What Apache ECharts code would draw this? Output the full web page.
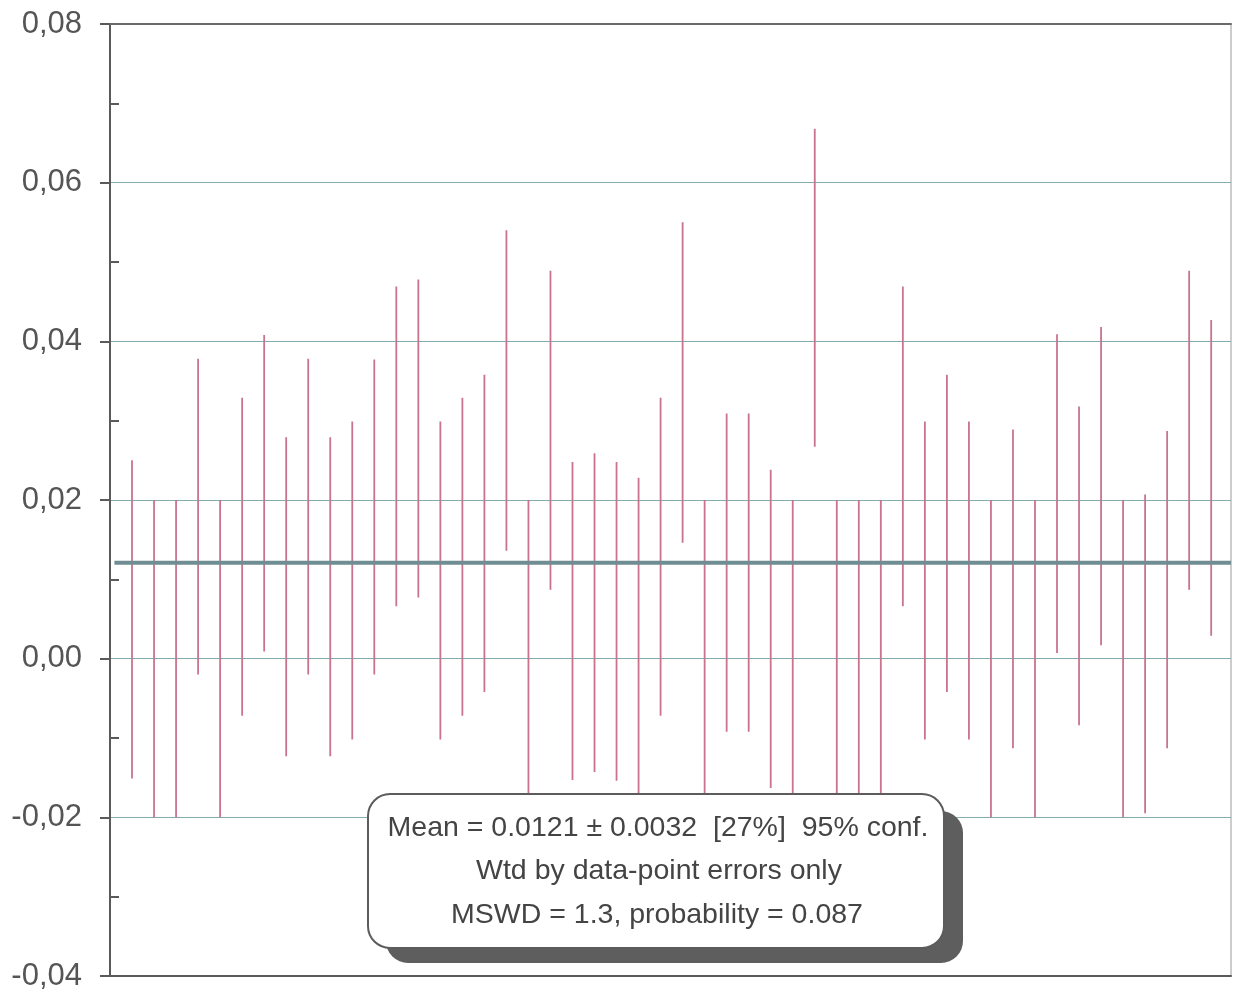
<!DOCTYPE html>
<html>
<head>
<meta charset="utf-8">
<script src="https://cdn.jsdelivr.net/npm/echarts@6/dist/echarts.min.js"></script>
<style>
html,body{margin:0;padding:0;background:#fff;}
#chart{width:1233px;height:994px;}
</style>
</head>
<body>
<div id="chart"></div>
<script>
// Data (error bars: low / high, by analysis number)
const pointIndex = [1,2,3,4,5,6,7,8,9,10,11,12,13,14,15,16,17,18,19,20,21,22,23,24,25,26,27,28,29,30,31,32,33,34,35,36,37,38,39,40,41,42,43,44,45,46,47,48,49,50];
const lowValues = [-0.0151,-0.02,-0.02,-0.002,-0.02,-0.0072,0.0009,-0.0123,-0.002,-0.0123,
  -0.0102,-0.002,0.0066,0.0077,-0.0102,-0.0072,-0.0042,0.0136,-0.02,0.0087,
  -0.0153,-0.0143,-0.0154,-0.0172,-0.0072,0.0146,-0.02,-0.0092,-0.0092,-0.0163,
  -0.02,0.0267,-0.02,-0.02,-0.02,0.0066,-0.0102,-0.0042,-0.0102,-0.02,
  -0.0113,-0.02,0.0007,-0.0084,0.0017,-0.02,-0.0195,-0.0113,0.0087,0.0029];
const highValues = [0.025,0.02,0.02,0.0378,0.02,0.0329,0.0408,0.0279,0.0378,0.0279,
  0.0299,0.0377,0.0469,0.0478,0.0299,0.0329,0.0358,0.054,0.02,0.0489,
  0.0248,0.0259,0.0248,0.0228,0.0329,0.055,0.02,0.0309,0.0309,0.0238,
  0.02,0.0668,0.02,0.02,0.02,0.0469,0.0299,0.0358,0.0299,0.02,
  0.0289,0.02,0.0409,0.0318,0.0418,0.02,0.0207,0.0287,0.0489,0.0427];
const meanValue = 0.0121;
const meanSpan = [0.2, 50.9];
const yTicks = [-0.04, -0.02, 0, 0.02, 0.04, 0.06, 0.08];
const boxLines = [
  'Mean = 0.0121 \u00b1 0.0032  [27%]  95% conf.',
  'Wtd by data-point errors only',
  'MSWD = 1.3, probability = 0.087'
];

const barData = pointIndex.map((x, i) => [x, lowValues[i], highValues[i]]);

const chart = echarts.init(document.getElementById('chart'), null, {renderer: 'canvas'});
const fontFam = '"Liberation Sans", Arial, Helvetica, sans-serif';

const option = {
  backgroundColor: '#ffffff',
  animation: false,
  grid: {left: 110, right: 2, top: 24, bottom: 18, show: true, borderColor: '#9a9a9a', borderWidth: 1, containLabel: false},
  xAxis: [{
    type: 'value', min: 0, max: 50.9, position: 'bottom',
    axisLine: {show: true, onZero: false, lineStyle: {color: '#5a5a5a', width: 2}},
    axisTick: {show: false}, axisLabel: {show: false}, splitLine: {show: false}
  }, {
    type: 'value', min: 0, max: 50.9, position: 'top',
    axisLine: {show: true, onZero: false, lineStyle: {color: '#6a6a6a', width: 2}},
    axisTick: {show: false}, axisLabel: {show: false}, splitLine: {show: false}
  }],
  yAxis: {
    type: 'value', min: yTicks[0], max: yTicks[yTicks.length - 1], interval: 0.02,
    axisLine: {show: true, onZero: false, lineStyle: {color: '#5a5a5a', width: 2}},
    axisTick: {show: true, inside: false, length: 10, lineStyle: {color: '#5a5a5a', width: 2}},
    minorTick: {show: true, splitNumber: 2, length: -9, lineStyle: {color: '#5a5a5a', width: 2}},
    splitLine: {show: true, lineStyle: {color: '#84abad', width: 1.2}},
    axisLabel: {
      margin: 28, color: '#555', fontSize: 31, fontFamily: fontFam,
      formatter: v => (Math.round(v * 100) / 100).toFixed(2).replace('.', ',').replace('-0,00', '0,00')
    }
  },
  series: [{
    type: 'custom',
    z: 3,
    data: barData,
    encode: {x: 0, y: [1, 2]},
    renderItem: function (params, api) {
      const p1 = api.coord([api.value(0), api.value(1)]);
      const p2 = api.coord([api.value(0), api.value(2)]);
      return {
        type: 'line',
        shape: {x1: p1[0], y1: p1[1], x2: p2[0], y2: p2[1]},
        style: {stroke: '#c8748d', lineWidth: 1.8}
      };
    }
  }, {
    type: 'line',
    z: 4,
    symbol: 'none',
    data: [[meanSpan[0], meanValue], [meanSpan[1], meanValue]],
    lineStyle: {color: '#6f8d92', width: 4}
  }],
  graphic: [{
    type: 'rect', z: 100,
    shape: {x: 386, y: 811, width: 577, height: 152, r: 22},
    style: {fill: '#5e5e5e'}
  }, {
    type: 'rect', z: 101,
    shape: {x: 368, y: 794, width: 576, height: 154, r: 22},
    style: {fill: '#ffffff', stroke: '#5c5c5c', lineWidth: 2}
  }, {
    type: 'text', z: 102, x: 658, y: 828,
    style: {text: boxLines[0], fill: '#444', fontSize: 28.5, fontFamily: fontFam, align: 'center', verticalAlign: 'middle'}
  }, {
    type: 'text', z: 102, x: 659, y: 871,
    style: {text: boxLines[1], fill: '#444', fontSize: 28.5, fontFamily: fontFam, align: 'center', verticalAlign: 'middle'}
  }, {
    type: 'text', z: 102, x: 657, y: 915,
    style: {text: boxLines[2], fill: '#444', fontSize: 28.5, fontFamily: fontFam, align: 'center', verticalAlign: 'middle'}
  }]
};
chart.setOption(option);
</script>
</body>
</html>
